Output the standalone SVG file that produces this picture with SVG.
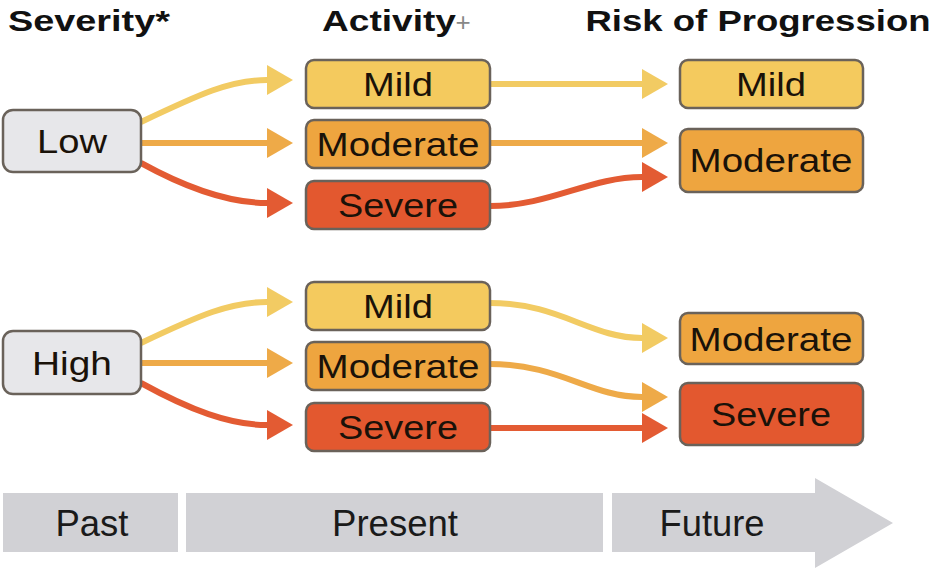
<svg xmlns="http://www.w3.org/2000/svg" width="939" height="571" viewBox="0 0 939 571">
<style>
text{font-family:"Liberation Sans",Arial,sans-serif;fill:#111;text-anchor:middle}
.h{font-weight:bold;font-size:30px}
.l{font-size:33px;fill:#1a1209}
.t{font-size:37px;fill:#1a1a1a}
.box{stroke:#6a625a;stroke-width:2.5}
.gray{fill:#e7e7ea}
.mild{fill:#f4ca5e}
.mod{fill:#eea53f}
.sev{fill:#e3582f}
.c{fill:none;stroke-width:6}
.cy{stroke:#f2cb63}
.co{stroke:#eeaa48}
.cr{stroke:#e35b33}
.bar{fill:#d1d1d5}
</style>
<defs>
<marker id="ay" viewBox="0 0 26 30" refX="0" refY="15" markerWidth="26" markerHeight="30" markerUnits="userSpaceOnUse" orient="auto"><path d="M0,0 L26,15 L0,30 z" fill="#f2cb63"/></marker>
<marker id="ao" viewBox="0 0 26 30" refX="0" refY="15" markerWidth="26" markerHeight="30" markerUnits="userSpaceOnUse" orient="auto"><path d="M0,0 L26,15 L0,30 z" fill="#eeaa48"/></marker>
<marker id="ar" viewBox="0 0 26 30" refX="0" refY="15" markerWidth="26" markerHeight="30" markerUnits="userSpaceOnUse" orient="auto"><path d="M0,0 L26,15 L0,30 z" fill="#e35b33"/></marker>
</defs>
<g id="headers">
<text class="h" x="89" y="31" textLength="162" lengthAdjust="spacingAndGlyphs">Severity*</text>
<text class="h" x="389" y="31" textLength="134" lengthAdjust="spacingAndGlyphs">Activity</text>
<text x="463" y="31" style="font-size:26px;fill:#888;font-weight:300">+</text>
<text class="h" x="758" y="31" textLength="345" lengthAdjust="spacingAndGlyphs">Risk of Progression</text>
</g>
<g id="connectors">
<path class="c cy" d="M141,122 C200,94 230,80 267,80" marker-end="url(#ay)"/>
<path class="c co" d="M141,143 L267,143" marker-end="url(#ao)"/>
<path class="c cr" d="M141,163 C190,190 230,203 267,203" marker-end="url(#ar)"/>
<path class="c cy" d="M490,84 L642,84" marker-end="url(#ay)"/>
<path class="c co" d="M490,143 L642,143" marker-end="url(#ao)"/>
<path class="c cr" d="M490,206 C550,206 590,177 642,177" marker-end="url(#ar)"/>
<path class="c cy" d="M141,343 C200,315 230,302 267,302" marker-end="url(#ay)"/>
<path class="c co" d="M141,363 L267,363" marker-end="url(#ao)"/>
<path class="c cr" d="M141,383 C190,410 230,425 267,425" marker-end="url(#ar)"/>
<path class="c cy" d="M490,303 C560,303 590,338 642,338" marker-end="url(#ay)"/>
<path class="c co" d="M490,364 C560,364 590,397 642,397" marker-end="url(#ao)"/>
<path class="c cr" d="M490,428 L642,428" marker-end="url(#ar)"/>
</g>
<g id="low"><rect class="box gray" x="3" y="110" width="138" height="62" rx="10"/><text class="l" x="72" y="153" textLength="70" lengthAdjust="spacingAndGlyphs">Low</text></g>
<g id="a1-mild"><rect class="box mild" x="306" y="60" width="184" height="48" rx="8"/><text class="l" x="398" y="96" textLength="70" lengthAdjust="spacingAndGlyphs">Mild</text></g>
<g id="a1-mod"><rect class="box mod" x="306" y="120" width="184" height="48" rx="8"/><text class="l" x="398" y="156" textLength="163" lengthAdjust="spacingAndGlyphs">Moderate</text></g>
<g id="a1-sev"><rect class="box sev" x="306" y="181" width="184" height="48" rx="8"/><text class="l" x="398" y="217" textLength="120" lengthAdjust="spacingAndGlyphs">Severe</text></g>
<g id="r1-mild"><rect class="box mild" x="680" y="60" width="183" height="48" rx="8"/><text class="l" x="771" y="96" textLength="70" lengthAdjust="spacingAndGlyphs">Mild</text></g>
<g id="r1-mod"><rect class="box mod" x="680" y="129" width="183" height="63" rx="8"/><text class="l" x="771" y="172" textLength="163" lengthAdjust="spacingAndGlyphs">Moderate</text></g>
<g id="high"><rect class="box gray" x="3" y="331" width="138" height="63" rx="10"/><text class="l" x="72" y="375" textLength="80" lengthAdjust="spacingAndGlyphs">High</text></g>
<g id="a2-mild"><rect class="box mild" x="306" y="282" width="184" height="48" rx="8"/><text class="l" x="398" y="318" textLength="70" lengthAdjust="spacingAndGlyphs">Mild</text></g>
<g id="a2-mod"><rect class="box mod" x="306" y="342" width="184" height="48" rx="8"/><text class="l" x="398" y="378" textLength="163" lengthAdjust="spacingAndGlyphs">Moderate</text></g>
<g id="a2-sev"><rect class="box sev" x="306" y="403" width="184" height="48" rx="8"/><text class="l" x="398" y="439" textLength="120" lengthAdjust="spacingAndGlyphs">Severe</text></g>
<g id="r2-mod"><rect class="box mod" x="680" y="313" width="183" height="51" rx="8"/><text class="l" x="771" y="351" textLength="163" lengthAdjust="spacingAndGlyphs">Moderate</text></g>
<g id="r2-sev"><rect class="box sev" x="680" y="383" width="183" height="62" rx="8"/><text class="l" x="771" y="426" textLength="120" lengthAdjust="spacingAndGlyphs">Severe</text></g>
<g id="timeline">
<rect class="bar" x="3" y="493" width="175" height="59"/>
<rect class="bar" x="186" y="493" width="417" height="59"/>
<path class="bar" d="M612,493 L815,493 L815,478 L893,523 L815,568 L815,552 L612,552 z"/>
<text class="t" x="92" y="536" textLength="73" lengthAdjust="spacingAndGlyphs">Past</text>
<text class="t" x="395" y="536" textLength="126" lengthAdjust="spacingAndGlyphs">Present</text>
<text class="t" x="712" y="536" textLength="105" lengthAdjust="spacingAndGlyphs">Future</text>
</g>
</svg>
